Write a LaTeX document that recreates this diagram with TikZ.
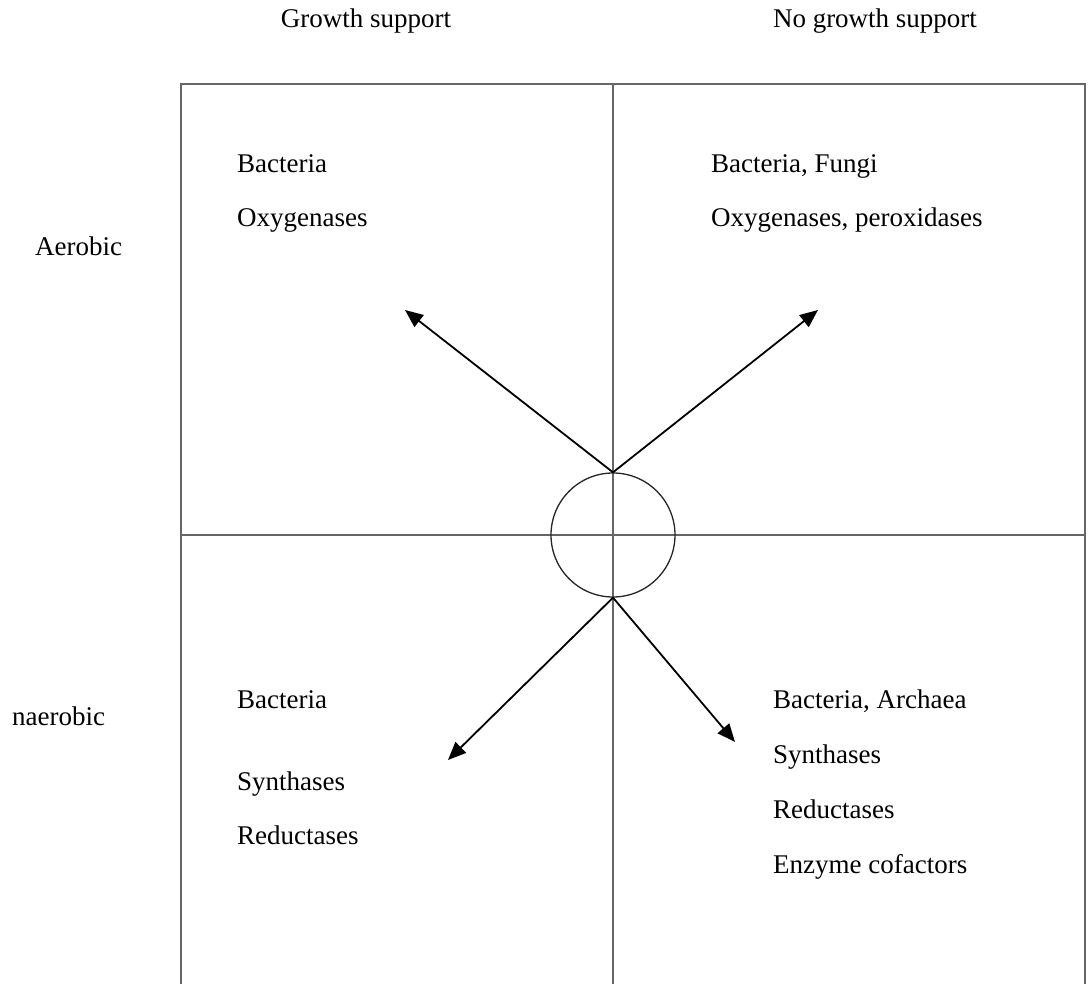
\documentclass[tikz,border=0pt]{standalone}
\usepackage{fontspec}
\setmainfont{Liberation Serif}
\usetikzlibrary{arrows.meta}
\begin{document}
\begin{tikzpicture}[x=1pt,y=-1pt,
  grid/.style={draw=black!60,line width=1.4pt},
  label/.style={anchor=base west,inner sep=0pt,font=\fontsize{27}{27}\selectfont},
  head/.style={anchor=base,inner sep=0pt,font=\fontsize{27}{27}\selectfont},
  ray/.style={draw=black,line width=1.8pt,-{Triangle[length=18pt,width=15pt]}},
  hubstyle/.style={circle,draw=black!85,line width=1.3pt,minimum size=124pt,inner sep=0pt}]
\useasboundingbox (0,0) rectangle (1088,984);
% quadrant frame (open at the bottom)
\draw[grid] (181,984) -- (181,84) -- (1085,84) -- (1085,984);
\draw[grid] (613,84) -- (613,984);
\draw[grid] (181,535) -- (1085,535);
% central hub
\node[hubstyle] (hub) at (613,535) {};
% column and row headings
\node[head] (gs) at (366,28) {Growth support};
\node[head] (ngs) at (875,28) {No growth support};
\node[label] (aer) at (35,256) {Aerobic};
\node[label] (anaer) at (12,725) {naerobic};
% quadrant contents
\node[label] (q1a) at (237,173) {Bacteria};
\node[label] (q1b) at (237,227) {Oxygenases};
\node[label] (q2a) at (711,173) {Bacteria, Fungi};
\node[label] (q2b) at (711,227) {Oxygenases, peroxidases};
\node[label] (q3a) at (237,708) {Bacteria};
\node[label] (q3b) at (237,790) {Synthases};
\node[label] (q3c) at (237,844) {Reductases};
\node[label] (q4a) at (773,708) {Bacteria, Archaea};
\node[label] (q4b) at (773,763) {Synthases};
\node[label] (q4c) at (773,818) {Reductases};
\node[label] (q4d) at (773,873) {Enzyme cofactors};
% arrow targets
\coordinate (tl) at (405,310);
\coordinate (tr) at (818,310);
\coordinate (bl) at (448,760);
\coordinate (br) at (735,742);
\draw[ray] (hub.north) -- (tl);
\draw[ray] (hub.north) -- (tr);
\draw[ray] (hub.south) -- (bl);
\draw[ray] (hub.south) -- (br);
\end{tikzpicture}
\end{document}
